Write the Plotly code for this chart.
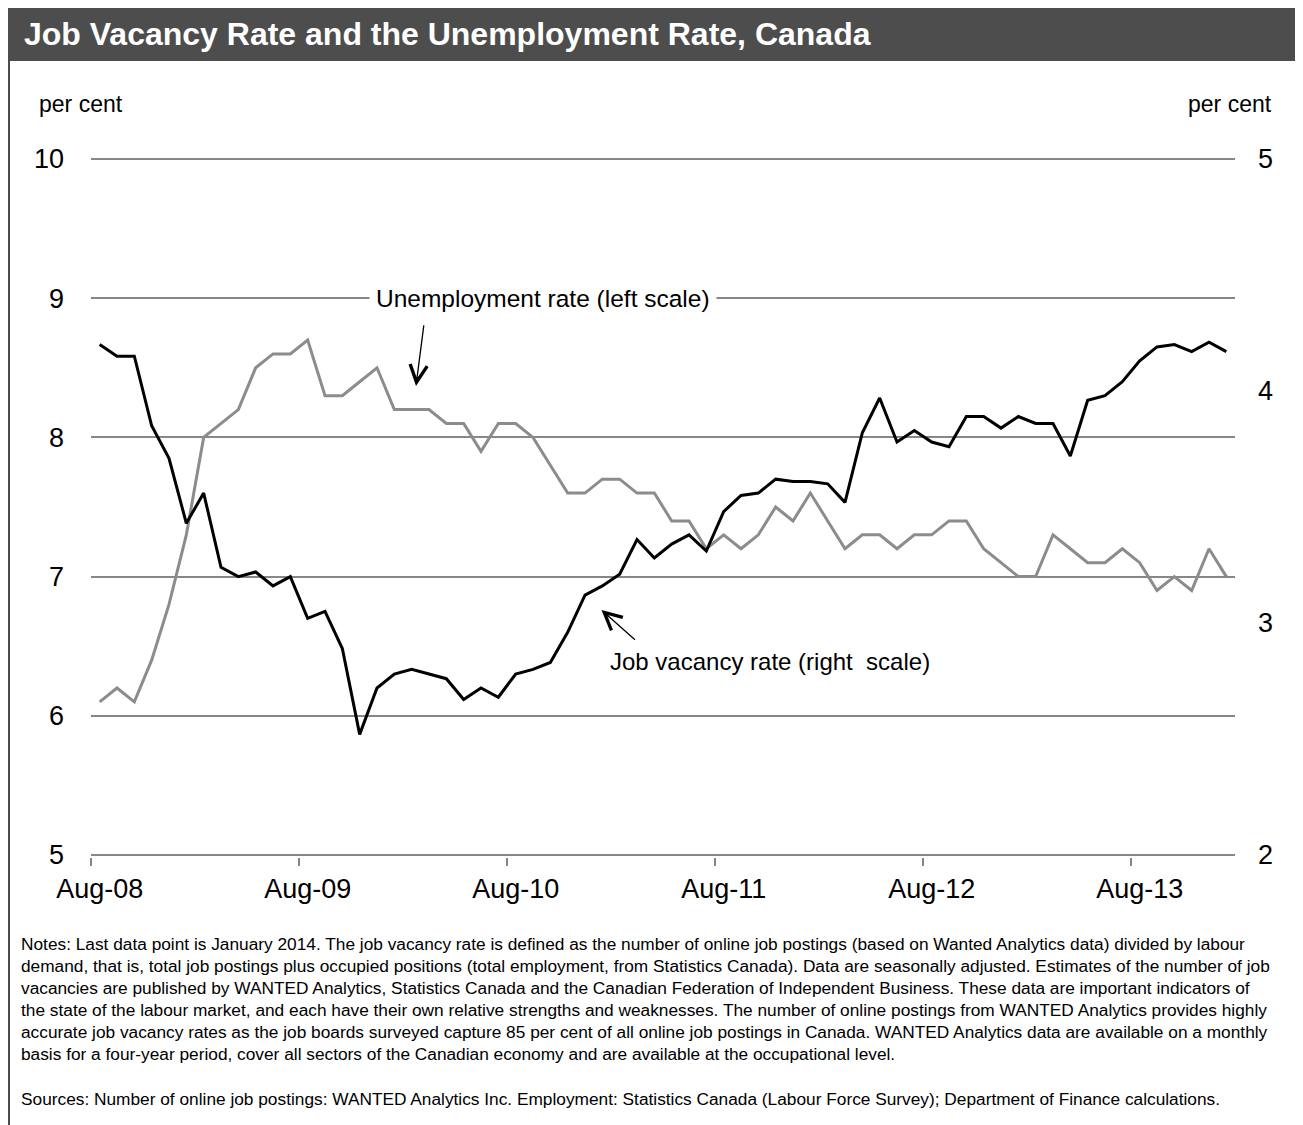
import plotly.graph_objects as go

# ---------------- data ----------------
months = [
    "Aug-08", "Sep-08", "Oct-08", "Nov-08", "Dec-08",
    "Jan-09", "Feb-09", "Mar-09", "Apr-09", "May-09", "Jun-09", "Jul-09", "Aug-09", "Sep-09", "Oct-09", "Nov-09", "Dec-09",
    "Jan-10", "Feb-10", "Mar-10", "Apr-10", "May-10", "Jun-10", "Jul-10", "Aug-10", "Sep-10", "Oct-10", "Nov-10", "Dec-10",
    "Jan-11", "Feb-11", "Mar-11", "Apr-11", "May-11", "Jun-11", "Jul-11", "Aug-11", "Sep-11", "Oct-11", "Nov-11", "Dec-11",
    "Jan-12", "Feb-12", "Mar-12", "Apr-12", "May-12", "Jun-12", "Jul-12", "Aug-12", "Sep-12", "Oct-12", "Nov-12", "Dec-12",
    "Jan-13", "Feb-13", "Mar-13", "Apr-13", "May-13", "Jun-13", "Jul-13", "Aug-13", "Sep-13", "Oct-13", "Nov-13", "Dec-13",
    "Jan-14",
]

unemployment_rate = [
    6.1, 6.2, 6.1, 6.4, 6.8,
    7.3, 8.0, 8.1, 8.2, 8.5, 8.6, 8.6, 8.7, 8.3, 8.3, 8.4, 8.5,
    8.2, 8.2, 8.2, 8.1, 8.1, 7.9, 8.1, 8.1, 8.0, 7.8, 7.6, 7.6,
    7.7, 7.7, 7.6, 7.6, 7.4, 7.4, 7.2, 7.3, 7.2, 7.3, 7.5, 7.4,
    7.6, 7.4, 7.2, 7.3, 7.3, 7.2, 7.3, 7.3, 7.4, 7.4, 7.2, 7.1,
    7.0, 7.0, 7.3, 7.2, 7.1, 7.1, 7.2, 7.1, 6.9, 7.0, 6.9, 7.2,
    7.0,
]

job_vacancy_rate = [
    4.20, 4.15, 4.15, 3.85, 3.71,
    3.43, 3.56, 3.24, 3.20, 3.22, 3.16, 3.20, 3.02, 3.05, 2.89, 2.52, 2.72,
    2.78, 2.80, 2.78, 2.76, 2.67, 2.72, 2.68, 2.78, 2.80, 2.83, 2.96, 3.12,
    3.16, 3.21, 3.36, 3.28, 3.34, 3.38, 3.31, 3.48, 3.55, 3.56, 3.62, 3.61,
    3.61, 3.60, 3.52, 3.82, 3.97, 3.78, 3.83, 3.78, 3.76, 3.89, 3.89, 3.84,
    3.89, 3.86, 3.86, 3.72, 3.96, 3.98, 4.04, 4.13, 4.19, 4.20, 4.17, 4.21,
    4.17,
]

left_ticks = [5, 6, 7, 8, 9, 10]
right_ticks = [2, 3, 4, 5]

title_text = "Job Vacancy Rate and the Unemployment Rate, Canada"
notes_lines = [
    "Notes: Last data point is January 2014. The job vacancy rate is defined as the number of online job postings (based on Wanted Analytics data) divided by labour",
    "demand, that is, total job postings plus occupied positions (total employment, from Statistics Canada). Data are seasonally adjusted. Estimates of the number of job",
    "vacancies are published by WANTED Analytics, Statistics Canada and the Canadian Federation of Independent Business. These data are important indicators of",
    "the state of the labour market, and each have their own relative strengths and weaknesses. The number of online postings from WANTED Analytics provides highly",
    "accurate job vacancy rates as the job boards surveyed capture 85 per cent of all online job postings in Canada. WANTED Analytics data are available on a monthly",
    "basis for a four-year period, cover all sectors of the Canadian economy and are available at the occupational level.",
]
sources_line = "Sources: Number of online job postings: WANTED Analytics Inc. Employment: Statistics Canada (Labour Force Survey); Department of Finance calculations."

# ---------------- layout geometry ----------------
# the page body has an 8px margin, so the figure is sized 8px smaller
OFF = 8
W, H = 1303 - OFF, 1125 - OFF
ML, MR, MT, MB = 83, 68, 149, 268
PW = W - ML - MR          # 1144
PH = H - MT - MB          # 700
FONT = "Liberation Sans, Arial, sans-serif"
GRID = "#878787"
EL = 2 / 139.2            # 2px of padding on left scale
ER = 2 / 232.0            # 2px of padding on right scale


def px(xr):
    # reference-image x pixel -> paper fraction
    return (xr - OFF - ML) / PW


def py(yr):
    # reference-image y pixel -> paper fraction
    return (H - MB - (yr - OFF)) / PH


fig = go.Figure()
fig.add_trace(go.Scatter(
    x=months, y=unemployment_rate, mode="lines", name="Unemployment rate (left scale)",
    line=dict(color="#8c8c8c", width=3), yaxis="y",
))
fig.add_trace(go.Scatter(
    x=months, y=job_vacancy_rate, mode="lines", name="Job vacancy rate (right scale)",
    line=dict(color="#000000", width=3), yaxis="y2",
))

annotations = []
shapes = []

# title bar
shapes.append(dict(type="rect", xref="paper", yref="paper",
                   x0=px(0), x1=px(1320), y0=py(61), y1=py(0),
                   fillcolor="#4d4d4d", line=dict(width=0), layer="below"))
# left border
shapes.append(dict(type="line", xref="paper", yref="paper",
                   x0=px(9), x1=px(9), y0=py(60), y1=py(1140),
                   line=dict(color="#4d4d4d", width=2)))

annotations.append(dict(text=title_text, xref="paper", yref="paper",
                        x=px(22), y=py(34), xanchor="left", yanchor="middle",
                        showarrow=False,
                        font=dict(family=FONT, size=32, color="white", weight="bold")))

annotations.append(dict(text="per cent", xref="paper", yref="paper",
                        x=px(37), y=py(104), xanchor="left", yanchor="middle",
                        showarrow=False, font=dict(family=FONT, size=23, color="black")))
annotations.append(dict(text="per cent", xref="paper", yref="paper",
                        x=px(1274), y=py(104), xanchor="right", yanchor="middle",
                        showarrow=False, font=dict(family=FONT, size=23, color="black")))

# series labels
annotations.append(dict(text="Unemployment rate (left scale)", xref="x", yref="y",
                        x=25.6, y=9.0, xanchor="center", yanchor="middle",
                        showarrow=False, bgcolor="white", borderpad=6,
                        font=dict(family=FONT, size=24.5, color="black")))
annotations.append(dict(text="", xref="x", yref="y", x=18.25, y=8.37,
                        ax=8, ay=-62, showarrow=True, arrowhead=5, arrowsize=2.6,
                        arrowwidth=1.3, arrowcolor="black"))
annotations.append(dict(text="Job vacancy rate (right  scale)", xref="x", yref="y",
                        x=38.7, y=6.39, xanchor="center", yanchor="middle",
                        showarrow=False, font=dict(family=FONT, size=24, color="black")))
annotations.append(dict(text="", xref="x", yref="y", x=28.95, y=6.76,
                        ax=35, ay=31, showarrow=True, arrowhead=5, arrowsize=2.6,
                        arrowwidth=1.3, arrowcolor="black"))

# notes
for k, line in enumerate(notes_lines):
    annotations.append(dict(text=line, xref="paper", yref="paper",
                            x=px(19), y=py(944 + 22 * k), xanchor="left", yanchor="middle",
                            showarrow=False, font=dict(family=FONT, size=17.3, color="black")))
annotations.append(dict(text=sources_line, xref="paper", yref="paper",
                        x=px(19), y=py(1099), xanchor="left", yanchor="middle",
                        showarrow=False, font=dict(family=FONT, size=17.3, color="black")))

fig.update_layout(
    width=W, height=H,
    margin=dict(l=ML, r=MR, t=MT, b=MB, pad=0),
    paper_bgcolor="white", plot_bgcolor="white",
    showlegend=False,
    font=dict(family=FONT, color="black"),
    xaxis=dict(
        type="category", categoryorder="array", categoryarray=months,
        range=[-0.5, len(months) - 0.5],
        tickmode="linear", tick0=0, dtick=12, tickson="boundaries",
        ticks="outside", ticklen=8, tickwidth=2, tickcolor=GRID,
        tickangle=0,
        showline=False, showgrid=False, zeroline=False,
        tickfont=dict(family=FONT, size=27, color="black"),
        ticklabelstandoff=13,
    ),
    yaxis=dict(
        range=[5 - EL, 10 + EL], tickvals=left_ticks, ticktext=[str(v) for v in left_ticks],
        showgrid=True, gridcolor=GRID, gridwidth=2, zeroline=False, showline=False,
        ticks="", ticklabelstandoff=26,
        tickfont=dict(family=FONT, size=27, color="black"),
    ),
    yaxis2=dict(
        range=[2 - ER, 5 + ER], tickvals=right_ticks, ticktext=[str(v) for v in right_ticks],
        overlaying="y", side="right", showgrid=False, zeroline=False, showline=False,
        ticks="", ticklabelstandoff=22,
        tickfont=dict(family=FONT, size=27, color="black"),
    ),
    annotations=annotations,
    shapes=shapes,
)

fig.write_html("out.html")
